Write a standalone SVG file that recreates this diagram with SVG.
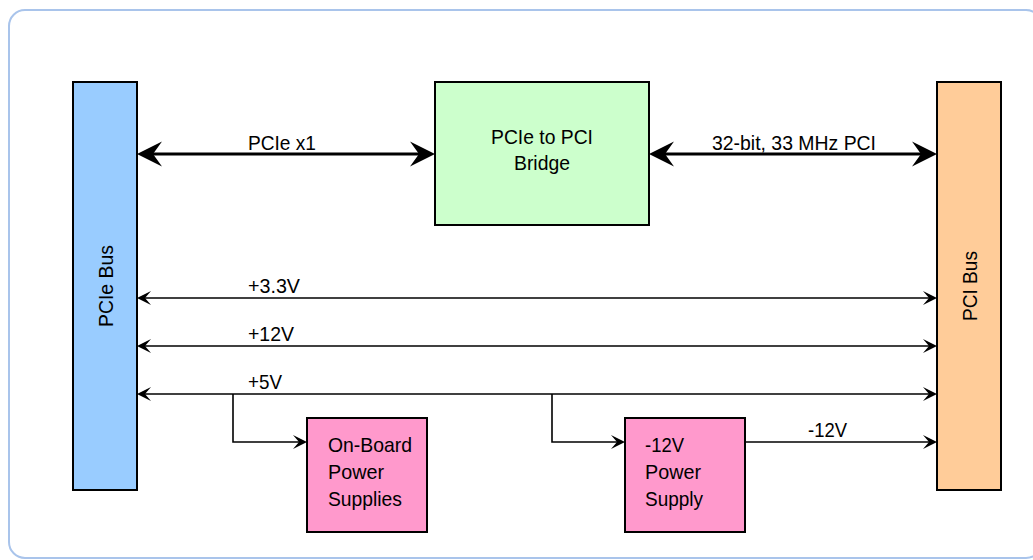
<svg xmlns="http://www.w3.org/2000/svg" width="1033" height="560" viewBox="0 0 1033 560">
<style>
text{font-family:"Liberation Sans",Arial,sans-serif;font-size:21px;fill:#000}
.box{stroke:#000;stroke-width:2}
.thick{stroke:#000;stroke-width:3.2;fill:none}
.thin{stroke:#000;stroke-width:1.6;fill:none}
</style>
<defs>
<marker id="bigArrow" markerUnits="userSpaceOnUse" viewBox="-10 -13 27 26" refX="0" refY="0" markerWidth="27" markerHeight="26" orient="auto-start-reverse">
<path d="M16,0 L-9,-12.5 L0,0 L-9,12.5 Z" fill="#000"/>
</marker>
<marker id="smallArrow" markerUnits="userSpaceOnUse" viewBox="-7 -8 16 16" refX="0" refY="0" markerWidth="16" markerHeight="16" orient="auto-start-reverse">
<path d="M8,0 L-6,-7 L0,0 L-6,7 Z" fill="#000"/>
</marker>
</defs>
<rect x="9" y="10" width="1033" height="548" rx="16" fill="#fff" stroke="#A9C4EB" stroke-width="2"/>
<g id="pcie-bus">
<rect class="box" x="73" y="82" width="64" height="408" fill="#99CCFF"/>
<text x="105" y="286" text-anchor="middle" dominant-baseline="central" textLength="82" lengthAdjust="spacingAndGlyphs" transform="rotate(-90 105 286)">PCIe Bus</text>
</g>
<g id="bridge">
<rect class="box" x="435" y="82" width="214" height="143" fill="#CCFFCC"/>
<text x="542" y="144" text-anchor="middle" textLength="102" lengthAdjust="spacingAndGlyphs">PCIe to PCI</text>
<text x="542" y="170" text-anchor="middle" textLength="56" lengthAdjust="spacingAndGlyphs">Bridge</text>
</g>
<g id="pci-bus">
<rect class="box" x="937" y="82" width="64" height="408" fill="#FFCC99"/>
<text x="969" y="286" text-anchor="middle" dominant-baseline="central" textLength="70" lengthAdjust="spacingAndGlyphs" transform="rotate(-90 969 286)">PCI Bus</text>
</g>
<g id="onboard-power">
<rect class="box" x="307" y="418" width="120" height="114" fill="#FF99CC"/>
<text x="328" y="452" textLength="84" lengthAdjust="spacingAndGlyphs">On-Board</text>
<text x="328" y="479" textLength="56" lengthAdjust="spacingAndGlyphs">Power</text>
<text x="328" y="506" textLength="74" lengthAdjust="spacingAndGlyphs">Supplies</text>
</g>
<g id="neg12-power">
<rect class="box" x="625" y="418" width="120" height="114" fill="#FF99CC"/>
<text x="645" y="452" textLength="39" lengthAdjust="spacingAndGlyphs">-12V</text>
<text x="645" y="479" textLength="56" lengthAdjust="spacingAndGlyphs">Power</text>
<text x="645" y="506" textLength="58" lengthAdjust="spacingAndGlyphs">Supply</text>
</g>
<g id="connectors">
<line class="thick" x1="153" y1="154" x2="419" y2="154" marker-start="url(#bigArrow)" marker-end="url(#bigArrow)"/>
<line class="thick" x1="665" y1="154" x2="921" y2="154" marker-start="url(#bigArrow)" marker-end="url(#bigArrow)"/>
<line class="thin" x1="145" y1="298" x2="929" y2="298" marker-start="url(#smallArrow)" marker-end="url(#smallArrow)"/>
<line class="thin" x1="145" y1="346" x2="929" y2="346" marker-start="url(#smallArrow)" marker-end="url(#smallArrow)"/>
<line class="thin" x1="145" y1="394" x2="929" y2="394" marker-start="url(#smallArrow)" marker-end="url(#smallArrow)"/>
<path class="thin" d="M233,394 V442 H299" marker-end="url(#smallArrow)"/>
<path class="thin" d="M552,394 V442 H617" marker-end="url(#smallArrow)"/>
<path class="thin" d="M745,442 H929" marker-end="url(#smallArrow)"/>
<text x="248" y="150" textLength="68" lengthAdjust="spacingAndGlyphs">PCIe x1</text>
<text x="712" y="150" textLength="164" lengthAdjust="spacingAndGlyphs">32-bit, 33 MHz PCI</text>
<text x="248" y="293" textLength="52" lengthAdjust="spacingAndGlyphs">+3.3V</text>
<text x="248" y="341" textLength="46" lengthAdjust="spacingAndGlyphs">+12V</text>
<text x="248" y="389" textLength="34" lengthAdjust="spacingAndGlyphs">+5V</text>
<text x="808" y="437" textLength="39" lengthAdjust="spacingAndGlyphs">-12V</text>
</g>
</svg>
